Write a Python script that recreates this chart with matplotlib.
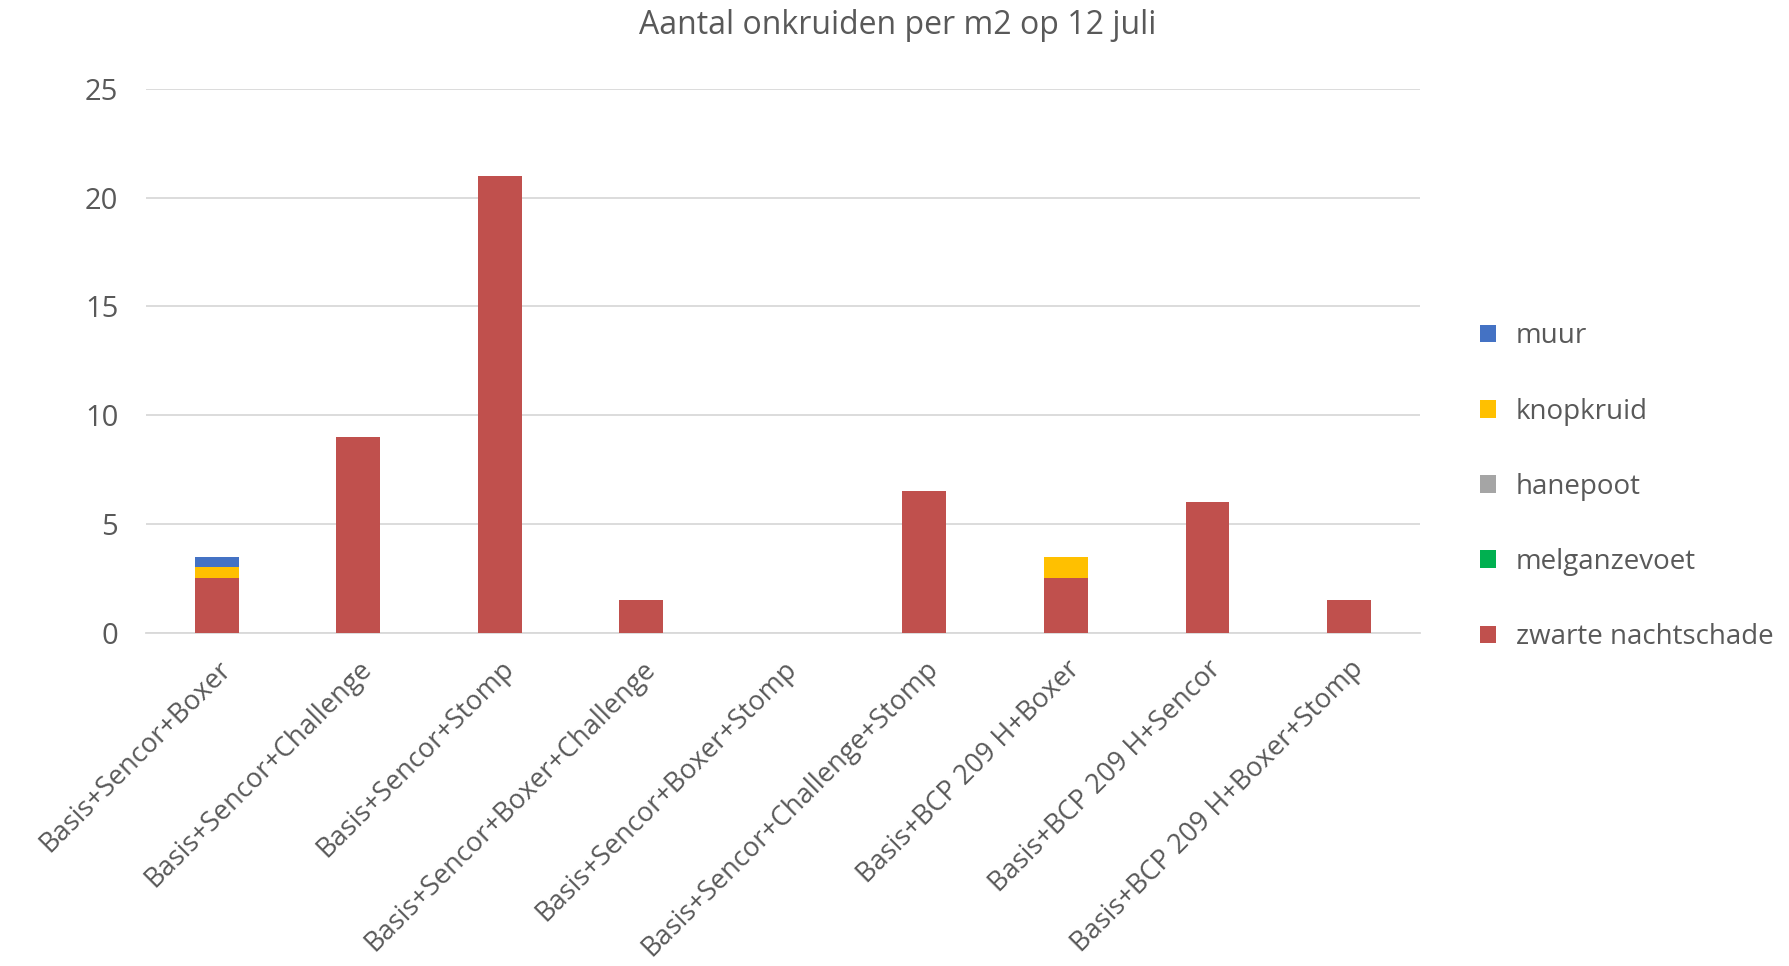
import numpy as np
import matplotlib.pyplot as plt

plt.rcParams['font.family'] = ['Open Sans', 'DejaVu Sans']

behandelingen = [
    "Basis+Sencor+Boxer",
    "Basis+Sencor+Challenge",
    "Basis+Sencor+Stomp",
    "Basis+Sencor+Boxer+Challenge",
    "Basis+Sencor+Boxer+Stomp",
    "Basis+Sencor+Challenge+Stomp",
    "Basis+BCP 209 H+Boxer",
    "Basis+BCP 209 H+Sencor",
    "Basis+BCP 209 H+Boxer+Stomp",
]

# stacked bottom to top
zwarte_nachtschade = [2.5, 9, 21, 1.5, 0, 6.5, 2.5, 6, 1.5]
melganzevoet = [0, 0, 0, 0, 0, 0, 0, 0, 0]
hanepoot = [0, 0, 0, 0, 0, 0, 0, 0, 0]
knopkruid = [0.5, 0, 0, 0, 0, 0, 1.0, 0, 0]
muur = [0.5, 0, 0, 0, 0, 0, 0, 0, 0]

series = [
    ("zwarte nachtschade", zwarte_nachtschade, "#C0504D"),
    ("melganzevoet", melganzevoet, "#00B050"),
    ("hanepoot", hanepoot, "#A5A5A5"),
    ("knopkruid", knopkruid, "#FFC000"),
    ("muur", muur, "#4472C4"),
]

text_color = "#595959"

fig = plt.figure(figsize=(17.89, 9.66), dpi=100)
ax = fig.add_axes([0.0816, 0.345, 0.712, 0.563])

x = np.arange(len(behandelingen))
bottom = np.zeros(len(behandelingen))
handles = []
for name, vals, color in series:
    vals = np.array(vals, dtype=float)
    b = ax.bar(x, vals, width=0.31, bottom=bottom, color=color, label=name, zorder=3)
    handles.append(b)
    bottom += vals

ax.set_ylim(0, 25)
ax.set_xlim(-0.5, len(behandelingen) - 0.5)
ax.set_yticks([0, 5, 10, 15, 20, 25])
ax.yaxis.grid(True, color="#D9D9D9", linewidth=1.3, zorder=0)
for s in ["top", "right", "left"]:
    ax.spines[s].set_visible(False)
ax.spines["bottom"].set_color("#D9D9D9")
ax.spines["bottom"].set_linewidth(1.3)
ax.tick_params(axis="both", length=0, colors=text_color)
ax.tick_params(axis="y", pad=20, labelsize=21)
ax.tick_params(axis="x", pad=16, labelsize=19.5)
ax.set_xticks(x)
ax.set_xticklabels(behandelingen, rotation=45, ha="right", rotation_mode="anchor")

fig.text(0.502, 0.974, "Aantal onkruiden per m2 op 12 juli", ha="center", va="center",
         fontsize=23, color=text_color)

leg = fig.legend(handles[::-1], [s[0] for s in series][::-1], loc="center left",
                 bbox_to_anchor=(0.827, 0.496), frameon=False, fontsize=20,
                 labelcolor=text_color, handlelength=0.6, handleheight=0.6,
                 handletextpad=0.7, labelspacing=1.7, borderpad=0, borderaxespad=0)

fig.savefig("out.png", dpi=100)
